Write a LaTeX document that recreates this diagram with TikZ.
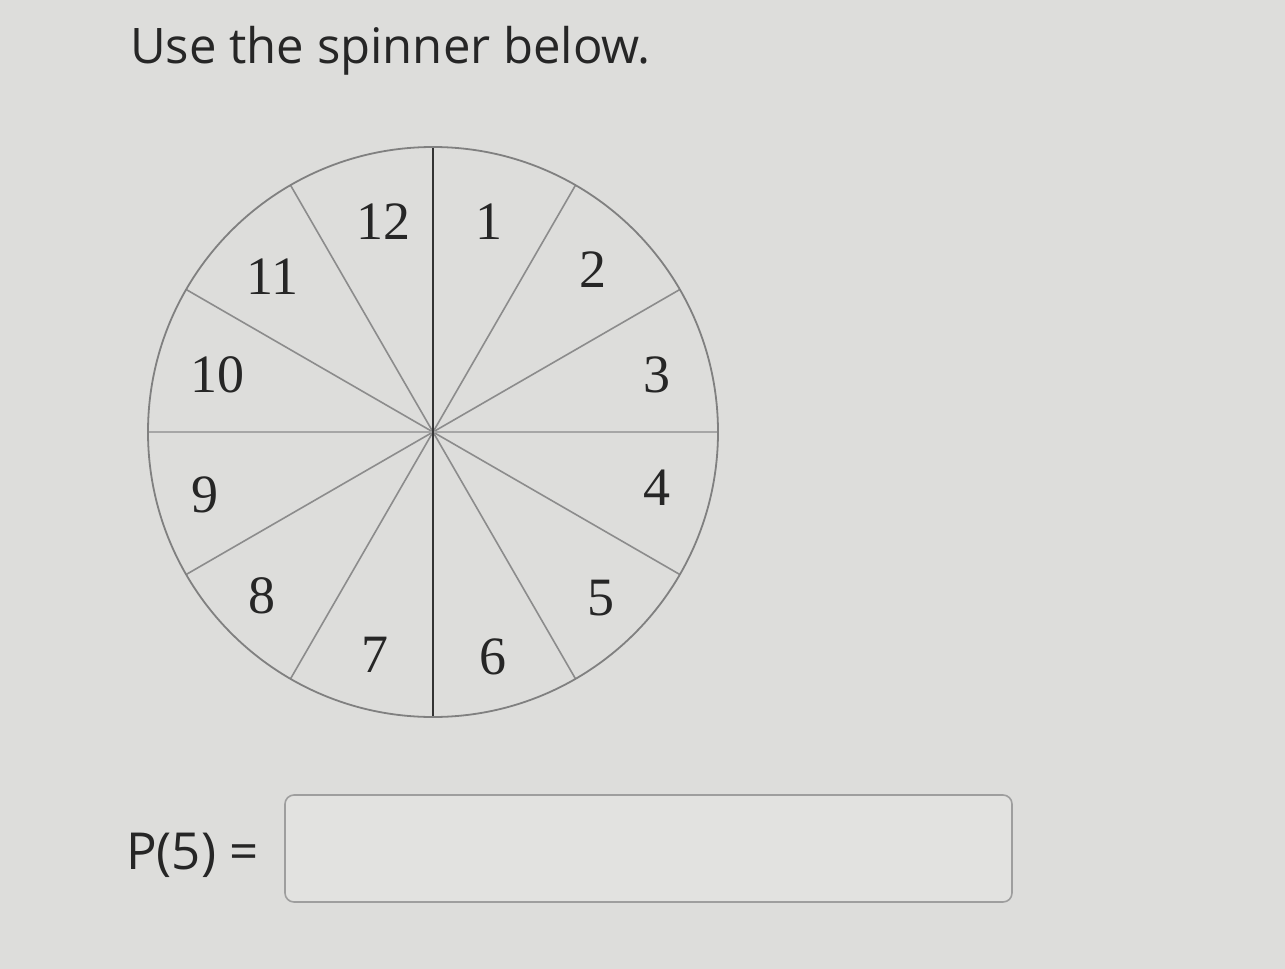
\documentclass[tikz,border=0pt]{standalone}
\usepackage{fontspec}
\usetikzlibrary{calc}
\setmainfont{Liberation Serif}
\newfontfamily\uifont{Open Sans}
\begin{document}
\begin{tikzpicture}[x=1pt,y=-1pt,
  num/.style={font=\fontsize{54}{64}\selectfont, text=black!85, inner sep=0pt, anchor=center},
  spoke/.style={draw=black!45, line width=1.6pt},
  ui/.style={font=\uifont\fontsize{49}{58}\selectfont, text=black!85, inner sep=0pt, anchor=base west},
]
\definecolor{bg}{RGB}{221,221,219}
\definecolor{boxfill}{RGB}{226,226,224}
\fill[bg] (0,0) rectangle (1285,969);
\useasboundingbox (0,0) rectangle (1285,969);
\coordinate (c) at (433,432);
% spokes
\foreach \a in {30,60,120,150,210,240,300,330}
  \draw[spoke] (c) -- ++({285*cos(\a)},{-285*sin(\a)});
\draw[draw=black!35, line width=1.8pt] ($(c)+(-285,0)$) -- ($(c)+(285,0)$);
\draw[draw=black!80, line width=2.2pt] ($(c)+(0,-285)$) -- ($(c)+(0,285)$);
\draw[draw=black!50, line width=1.8pt] (c) circle (285);
% labels
\node[num] (n12) at (383,222) {12};
\node[num] (n1) at (489,222) {1};
\node[num] (n2) at (593,270) {2};
\node[num] (n11) at (272,277) {11};
\node[num] (n10) at (217,375) {10};
\node[num] (n3) at (657,375) {3};
\node[num] (n9) at (205,495) {9};
\node[num] (n4) at (657,488) {4};
\node[num] (n8) at (262,596) {8};
\node[num] (n5) at (601,598) {5};
\node[num] (n7) at (375,655) {7};
\node[num] (n6) at (493,657) {6};
% title
\node[ui] (title) at (130,63) {Use the spinner below.};
\node[ui, font=\uifont\fontsize{51}{60}\selectfont] (p5) at (126,869) {P(5) =};
\draw[draw=black!38, line width=1.6pt, fill=boxfill, rounded corners=9pt] (285,795) rectangle (1012,902);
\node[inner sep=0pt] (box) at (648,848) {};
\end{tikzpicture}
\end{document}
